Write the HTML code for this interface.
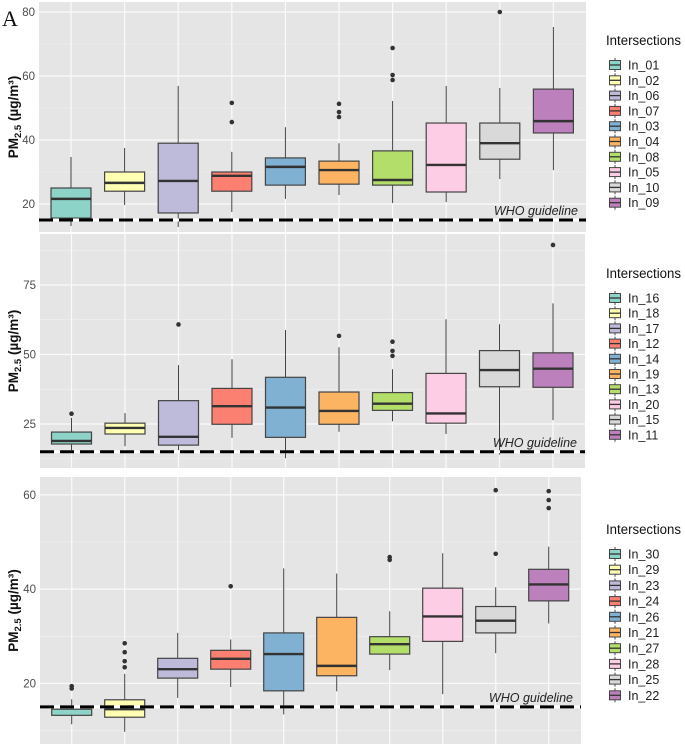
<!DOCTYPE html>
<html><head><meta charset="utf-8">
<style>
html,body{margin:0;padding:0;background:#fff;}
svg{display:block;font-family:"Liberation Sans",Arial,sans-serif;}
</style></head>
<body>
<svg id="chart" width="685" height="746" viewBox="0 0 685 746" xmlns="http://www.w3.org/2000/svg">
<text x="2" y="26" font-family="Liberation Serif, serif" font-size="22" fill="#111">A</text>
</svg>
<script>
const colors = ["#8DD3C7","#FFFFB3","#BEBADA","#FB8072","#80B1D3","#FDB462","#B3DE69","#FCCDE5","#D9D9D9","#BC80BD"];

// Panel 1
const cats1 = ["In_01","In_02","In_06","In_07","In_03","In_04","In_08","In_05","In_10","In_09"];
const low1 = [13.1,19.7,12.8,17.5,21.6,22.8,20.3,20.6,27.8,30.6];
const q1_1 = [15.6,24,17.2,24,25.9,26.2,25.9,23.75,34,42.2];
const med1 = [21.6,26.6,27.2,28.8,31.6,30.6,27.5,32.2,39,45.9];
const q3_1 = [25,30,39,30,34.4,33.4,36.6,45.3,45.3,55.9];
const high1 = [34.7,37.5,56.9,36.3,44,39,52.2,56.9,56.25,75.3];
const out1 = [[],[],[],[51.6,45.6],[],[51.3,48.75,47.2],[68.75,60.3,58.75],[],[80],[]];
const ticks1 = [20,40,60,80];

// Panel 2
const cats2 = ["In_16","In_18","In_17","In_12","In_14","In_19","In_13","In_20","In_15","In_11"];
const low2 = [15.6,17,15.6,20,12.7,22.2,26,21.4,14,26.4];
const q1_2 = [17.8,21.4,17.4,24.9,20.2,24.9,29.9,25.3,38.4,38.2];
const med2 = [18.9,23.6,20.4,31.4,30.9,29.7,32.3,28.8,44.4,44.9];
const q3_2 = [22.1,25.3,33.4,37.8,41.8,36.5,36.3,43.2,51.4,50.6];
const high2 = [27.2,28.9,46.2,48.3,58.8,52.6,44.7,62.7,60.9,68.4];
const out2 = [[28.7],[],[60.8],[],[],[56.7],[54.6,51.3,49.5],[],[],[89.4]];
const ticks2 = [25,50,75];

// Panel 3
const cats3 = ["In_30","In_29","In_23","In_24","In_26","In_21","In_27","In_28","In_25","In_22"];
const low3 = [11.3,9.7,16.9,19.2,13.4,18.3,22.8,17.7,26.4,32.7];
const q1_3 = [13.2,12.8,21.1,23,18.4,21.6,26.2,28.9,30.7,37.5];
const med3 = [15,14.5,23,25.2,26.2,23.7,28.3,34.2,33.3,41];
const q3_3 = [14.5,16.5,25.3,27,30.7,34,29.9,40.2,36.3,44.2];
const high3 = [16.6,22,30.7,29.3,44.4,43.3,35.3,47.6,40.4,49];
const out3 = [[19.4,18.9],[28.5,26.6,24.7,23.4],[],[40.6],[],[],[46.8,46.2],[],[61,47.5],[60.8,58.9,57.2]];
const ticks3 = [20,40,60];

const WHO = 15;
const NS = "http://www.w3.org/2000/svg";
const svg = document.getElementById("chart");
function mk(tag, attrs, parent){
  const e = document.createElementNS(NS, tag);
  for (const k in attrs) e.setAttribute(k, attrs[k]);
  (parent||svg).appendChild(e);
  return e;
}

function panel(p){
  const g = mk("g", {});
  
  
  const y = v => p.y0 - (v - p.v0) * p.k;
  const x = i => p.cx0 + i * p.step;
  const bg = mk("rect", {x:p.left, y:p.top, width:p.right-p.left, height:p.bottom-p.top, fill:"#e5e5e5"}, g);
  
  
  for (let t = 0; t < p.ticks.length + 1; t++) {
    const base = p.ticks[0] - (p.ticks[1]-p.ticks[0]) / 2 + t*(p.ticks[1]-p.ticks[0]);
    const yy = y(base);
    if (yy > p.top && yy < p.bottom) mk("line", {x1:p.left, x2:p.right, y1:yy, y2:yy, stroke:"#f2f2f2", "stroke-width":0.6}, g);
  }
  p.ticks.forEach(t => {
    const yy = y(t);
    const gl = mk("line", {x1:p.left, x2:p.right, y1:yy, y2:yy, stroke:"#fafafa", "stroke-width":1.2}, g);
    
    
    const tl = mk("text", {x:p.left-4, y:yy+4, "text-anchor":"end", "font-size":11.5, fill:"#4d4d4d"}, g);
    tl.textContent = t;
    
    
  });
  p.cats.forEach((c, i) => {
    mk("line", {x1:x(i), x2:x(i), y1:p.top, y2:p.bottom, stroke:"#fafafa", "stroke-width":1.2}, g);
  });
  const cy = (p.top + p.bottom) / 2;
  const at = mk("text", {x:0, y:0, transform:`translate(18,${cy}) rotate(-90)`, "text-anchor":"middle", "font-size":13.5, "font-weight":"bold", fill:"#111"}, g);
  at.innerHTML = 'PM<tspan font-size="9.5" dy="3">2.5</tspan><tspan dy="-3"> (µg/m³)</tspan>';
  
  
  const hw = 20;
  p.cats.forEach((c, i) => {
    const bx = mk("g", {}, g);
    
    
    mk("line", {x1:x(i), x2:x(i), y1:y(p.high[i]), y2:y(p.low[i]), stroke:"#444", "stroke-width":1}, bx);
    const top = Math.min(y(p.q3[i]), y(p.q1[i])), bot = Math.max(y(p.q3[i]), y(p.q1[i]));
    mk("rect", {x:x(i)-hw, y:top, width:2*hw, height:Math.max(bot-top,1), fill:colors[i], stroke:"#444", "stroke-width":1.2}, bx);
    mk("line", {x1:x(i)-hw, x2:x(i)+hw, y1:y(p.med[i]), y2:y(p.med[i]), stroke:"#333", "stroke-width":2.4}, bx);
    p.out[i].forEach(o => {
      const d = mk("circle", {cx:x(i), cy:y(o), r:2.3, fill:"#333"}, bx);
      
      
    });
  });
  mk("line", {x1:p.left, x2:p.right, y1:y(WHO), y2:y(WHO), stroke:"#fff", "stroke-width":3}, g);
  const wl = mk("line", {x1:p.left, x2:p.right, y1:y(WHO), y2:y(WHO), stroke:"#000", "stroke-width":3, "stroke-dasharray":"14,6"}, g);
  
  
  const wt = mk("text", {x:p.right-8, y:y(WHO)-5, "text-anchor":"end", "font-size":12.5, "font-style":"italic", fill:"#222"}, g);
  wt.textContent = "WHO guideline";
  
  
  const lg = mk("g", {}, g);
  
  
  const lt = mk("text", {x:606, y:p.legY, "font-size":13.5, textLength:75, lengthAdjust:"spacingAndGlyphs", fill:"#111"}, lg);
  lt.textContent = "Intersections";
  
  
  p.cats.forEach((c, i) => {
    const ly = p.legY + 20 + i * p.legStep;
    const le = mk("g", {}, lg);
    
    
    mk("line", {x1:615, x2:615, y1:ly-7, y2:ly+7, stroke:"#444", "stroke-width":1}, le);
    mk("rect", {x:609.5, y:ly-4.5, width:11, height:9, fill:colors[i], stroke:"#444", "stroke-width":1}, le);
    mk("line", {x1:609.5, x2:620.5, y1:ly, y2:ly, stroke:"#333", "stroke-width":1.3}, le);
    const tx = mk("text", {x:628, y:ly+4.5, "font-size":12.5, fill:"#222"}, le);
    tx.textContent = c;
  });
}

panel({id:"a", cats:cats1, low:low1, q1:q1_1, med:med1, q3:q3_1, high:high1, out:out1, ticks:ticks1,
  left:39, right:586, top:2, bottom:232, y0:204, v0:20, k:3.2, cx0:71, step:53.6, legY:45, legStep:15.3});
panel({id:"b", cats:cats2, low:low2, q1:q1_2, med:med2, q3:q3_2, high:high2, out:out2, ticks:ticks2,
  left:40, right:585, top:234, bottom:468, y0:424, v0:25, k:2.78, cx0:71.5, step:53.5, legY:278, legStep:15.2});
panel({id:"c", cats:cats3, low:low3, q1:q1_3, med:med3, q3:q3_3, high:high3, out:out3, ticks:ticks3,
  left:40, right:581, top:477, bottom:744, y0:683.3, v0:20, k:4.71, cx0:71.7, step:53, legY:534, legStep:15.7});
</script>
</body></html>
